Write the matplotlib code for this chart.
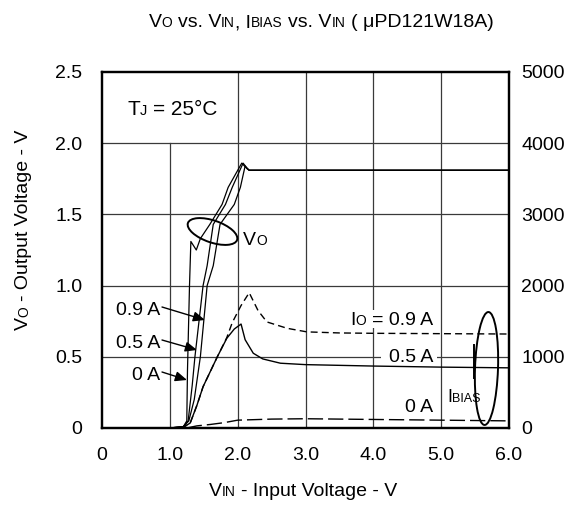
import matplotlib
matplotlib.use("Agg")
import matplotlib.pyplot as plt
from matplotlib.patches import Ellipse, Rectangle
from matplotlib.lines import Line2D
from matplotlib.transforms import IdentityTransform
from matplotlib.font_manager import FontProperties

plt.rcParams['font.family'] = ['Liberation Sans', 'DejaVu Sans']

# ---- data ----
# output voltage VO (V) vs input voltage VIN (V), for IO = 0 / 0.5 / 0.9 A
vin_vo_0a = [1.0, 1.2, 1.25, 1.26, 1.29, 1.31, 1.39, 1.45, 1.59, 1.77, 1.86, 2.06, 2.12, 2.17, 6.0]
vo_0a = [0.0, 0.01, 0.05, 0.40, 1.00, 1.31, 1.25, 1.33, 1.43, 1.57, 1.69, 1.86, 1.83, 1.81, 1.81]

vin_vo_05a = [1.0, 1.2, 1.27, 1.33, 1.37, 1.49, 1.55, 1.64, 1.82, 1.92, 2.08, 2.13, 2.17, 6.0]
vo_05a = [0.0, 0.01, 0.05, 0.30, 0.50, 1.00, 1.14, 1.43, 1.57, 1.69, 1.86, 1.83, 1.81, 1.81]

vin_vo_09a = [1.0, 1.2, 1.28, 1.36, 1.45, 1.55, 1.64, 1.74, 1.95, 2.04, 2.11, 2.14, 2.17, 6.0]
vo_09a = [0.0, 0.01, 0.05, 0.20, 0.50, 1.00, 1.14, 1.43, 1.57, 1.69, 1.84, 1.82, 1.81, 1.81]

# bias current IBIAS (mA) vs VIN (V)
vin_ib_0a = [1.25, 1.4, 1.6, 1.8, 2.0, 2.5, 3.0, 4.0, 5.0, 6.0]
ib_0a = [0, 30, 50, 75, 110, 125, 130, 120, 110, 100]

vin_ib_05a = [1.0, 1.2, 1.3, 1.4, 1.49, 1.6, 1.7, 1.84, 1.95, 2.05, 2.11, 2.23, 2.37, 2.63, 3.0, 4.0, 5.0, 6.0]
ib_05a = [0, 10, 70, 320, 580, 800, 1000, 1260, 1390, 1460, 1240, 1050, 970, 910, 890, 870, 855, 845]

vin_ib_09a = [1.0, 1.2, 1.3, 1.4, 1.49, 1.6, 1.7, 1.84, 1.92, 2.05, 2.17, 2.30, 2.43, 2.73, 3.02, 3.5, 4.0, 5.0, 6.0]
ib_09a = [0, 10, 70, 320, 580, 800, 1000, 1270, 1480, 1720, 1900, 1650, 1490, 1400, 1350, 1335, 1330, 1325, 1320]

x_ticks = [0, 1, 2, 3, 4, 5, 6]
x_labels = ['0', '1.0', '2.0', '3.0', '4.0', '5.0', '6.0']
y_ticks = [0, 0.5, 1.0, 1.5, 2.0, 2.5]
y_labels = ['0', '0.5', '1.0', '1.5', '2.0', '2.5']
y2_ticks = [0, 1000, 2000, 3000, 4000, 5000]

W, H = 571, 520
FS = 14
SM = 10

fig = plt.figure(figsize=(W / 100, H / 100), dpi=100)
ax = fig.add_axes([102 / W, 92 / H, 407 / W, 356 / H])
ax2 = ax.twinx()

# grid (the upper-left cell is left free for the TJ note)
grid_kw = dict(color='#3a3a3a', lw=0.9, zorder=1)
for gx in x_ticks[1:-1]:
    top = 2.0 if gx == 1 else 2.5
    ax.plot([gx, gx], [0, top], **grid_kw)
for gy in y_ticks[1:-1]:
    ax.plot([0, 6], [gy, gy], **grid_kw)

# VO curves
for vx, vy in [(vin_vo_0a, vo_0a), (vin_vo_05a, vo_05a), (vin_vo_09a, vo_09a)]:
    ax.plot(vx, vy, color='black', lw=0.9, zorder=3)

# IBIAS curves on the right axis
ax2.plot(vin_ib_05a, ib_05a, color='black', lw=1.0)
ax2.plot(vin_ib_09a, ib_09a, color='black', lw=1.0, dashes=(5, 3))
ax2.plot(vin_ib_0a, ib_0a, color='black', lw=1.0, dashes=(11, 3.6))

ax.set_xlim(0, 6)
ax.set_ylim(0, 2.5)
ax2.set_ylim(0, 5000)
ax.set_xticks(x_ticks, x_labels)
ax.set_yticks(y_ticks, y_labels)
ax2.set_yticks(y2_ticks, [str(v) for v in y2_ticks])
ax.tick_params(length=0, labelsize=FS, pad=14)
ax.tick_params(axis='y', pad=14)
ax2.tick_params(length=0, labelsize=FS, pad=9)
for a in (ax, ax2):
    for sp in a.spines.values():
        sp.set_linewidth(1.6)

renderer = fig.canvas.get_renderer()


def adv(s, fs):
    fp = FontProperties(family=['Liberation Sans', 'DejaVu Sans'], size=fs)
    w1 = renderer.get_text_width_height_descent('|' + s + '|', fp, False)[0]
    w0 = renderer.get_text_width_height_descent('||', fp, False)[0]
    return w1 - w0


def rich_text(parts, x, y, ha='left', rotation=0, white=None):
    """parts = [(text, size)], x/y = baseline point in image pixels (origin top-left)"""
    y = H - y
    total = sum(adv(s, fs) for s, fs in parts)
    pos = {'left': 0, 'center': -total / 2, 'right': -total}[ha]
    if white:
        # one white patch behind the whole label (cuts the grid lines)
        lpad, rpad, up, down = white
        fig.add_artist(Rectangle((x + pos - lpad, y - down), total + lpad + rpad, up + down,
                                 facecolor='white', edgecolor='none',
                                 transform=IdentityTransform(), zorder=4.5))
    for s, fs in parts:
        lead = len(s) - len(s.lstrip(' '))
        off = pos + (adv(' ' * lead, fs) if lead else 0)
        txt = s.strip(' ')
        if txt:
            xy = (x + off, y) if rotation == 0 else (x, y + off)
            fig.text(xy[0], xy[1], txt, fontsize=fs, rotation=rotation,
                     rotation_mode='anchor', ha='left', va='baseline',
                     transform=IdentityTransform(), zorder=5)
        pos += adv(s, fs)


# titles and axis labels
rich_text([('V', FS), ('O', SM), (' vs. V', FS), ('IN', SM), (', I', FS), ('BIAS', SM),
           (' vs. V', FS), ('IN', SM), (' ( \u03bcPD121W18A)', FS)], 321, 27, ha='center')
rich_text([('V', FS), ('O', SM), (' - Output Voltage - V', FS)], 28, 230, ha='center', rotation=90)
rich_text([('V', FS), ('IN', SM), (' - Input Voltage - V', FS)], 303, 496, ha='center')

# notes inside the plot
rich_text([('T', 15), ('J', 10.5), (' = 25\u00b0C', 15)], 127, 115)
rich_text([('V', FS), ('O', SM)], 243, 245)
rich_text([('I', FS), ('O', SM), (' = 0.9 A', FS)], 433, 325, ha='right', white=(3, 3, 15, 3))
rich_text([('0.5 A', FS)], 433, 362, ha='right', white=(8, 4, 15, 1))
rich_text([('0 A', FS)], 433, 412, ha='right', white=(3, 3, 15, 3))
rich_text([('I', 13), ('BIAS', 9)], 447, 402)

# left-side current labels with arrows
for lab, y_img, tip in [('0.9 A', 315, (205, 320)), ('0.5 A', 348, (197, 350)), ('0 A', 380, (187, 380))]:
    rich_text([(lab, FS)], 160, y_img, ha='right')
    tail = (162, y_img - 8)
    ax.annotate('', xy=(tip[0], H - tip[1]), xycoords=IdentityTransform(),
                xytext=(tail[0], H - tail[1]), textcoords=IdentityTransform(),
                arrowprops=dict(arrowstyle='-|>,head_length=0.7,head_width=0.3',
                                color='black', lw=1.0, shrinkA=0, shrinkB=0))

# group rings
fig.add_artist(Ellipse((212.5, H - 231.5), 52, 22, angle=-19, fill=False, lw=1.4,
                       ec='black', transform=IdentityTransform(), zorder=4))
fig.add_artist(Ellipse((486.5, H - 368.5), 23, 113, angle=-2, fill=False, lw=1.4,
                       ec='black', transform=IdentityTransform(), zorder=4))
fig.add_artist(Line2D([473.5, 473.5], [H - 345, H - 378], color='black', lw=1.4,
                      transform=IdentityTransform(), zorder=4))

fig.savefig('out.png', dpi=100)
